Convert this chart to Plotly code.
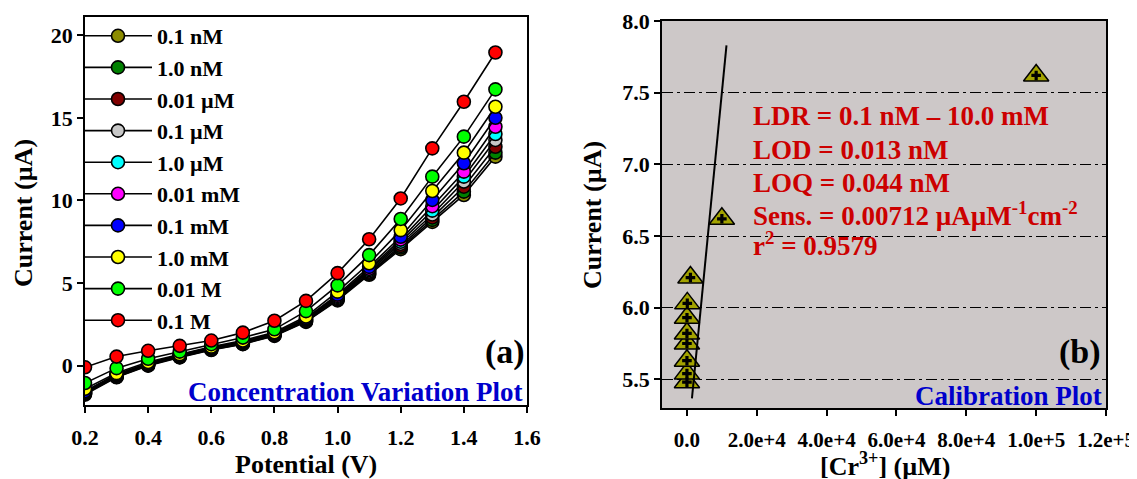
import plotly.graph_objects as go

# ---------------- data: panel (a) ----------------
potential = [0.2, 0.3, 0.4, 0.5, 0.6, 0.7, 0.8, 0.9, 1.0, 1.1, 1.2, 1.3, 1.4, 1.5]
series_names = ["0.1 nM", "1.0 nM", "0.01 µM", "0.1 µM", "1.0 µM",
                "0.01 mM", "0.1 mM", "1.0 mM", "0.01 M", "0.1 M"]
series_colors = ["#8c8c00", "#008000", "#800000", "#c8c8c8", "#00ffff",
                 "#ff00ff", "#0000ff", "#ffff00", "#00ff00", "#ff0000"]
cur_01nM = [-1.75, -0.70, 0.00, 0.50, 0.95, 1.30, 1.80, 2.65, 3.95, 5.50, 7.05, 8.70, 10.33, 12.65]
cur_1nM = [-1.70, -0.68, 0.02, 0.52, 0.97, 1.32, 1.83, 2.68, 4.00, 5.56, 7.15, 8.82, 10.53, 12.89]
cur_001uM = [-1.68, -0.65, 0.05, 0.55, 1.00, 1.35, 1.86, 2.72, 4.05, 5.62, 7.25, 8.97, 10.83, 13.25]
cur_01uM = [-1.65, -0.62, 0.08, 0.58, 1.02, 1.38, 1.88, 2.76, 4.10, 5.70, 7.38, 9.15, 11.14, 13.66]
cur_1uM = [-1.62, -0.58, 0.10, 0.60, 1.05, 1.40, 1.90, 2.80, 4.16, 5.78, 7.50, 9.38, 11.44, 14.02]
cur_001mM = [-1.58, -0.55, 0.12, 0.63, 1.07, 1.43, 1.93, 2.84, 4.22, 5.86, 7.63, 9.65, 11.74, 14.46]
cur_01mM = [-1.55, -0.52, 0.15, 0.66, 1.10, 1.46, 1.96, 2.88, 4.30, 5.98, 7.80, 10.03, 12.25, 15.00]
cur_1mM = [-1.40, -0.45, 0.22, 0.70, 1.15, 1.52, 2.02, 2.97, 4.48, 6.20, 8.20, 10.57, 12.89, 15.67]
cur_001M = [-1.05, -0.15, 0.42, 0.85, 1.30, 1.70, 2.20, 3.30, 4.86, 6.69, 8.88, 11.44, 13.86, 16.72]
cur_01M = [-0.10, 0.55, 0.90, 1.20, 1.52, 2.00, 2.72, 3.92, 5.60, 7.65, 10.12, 13.15, 15.97, 18.95]
series_values = [cur_01nM, cur_1nM, cur_001uM, cur_01uM, cur_1uM,
                 cur_001mM, cur_01mM, cur_1mM, cur_001M, cur_01M]
a_xticks = [0.2, 0.4, 0.6, 0.8, 1.0, 1.2, 1.4, 1.6]
a_yticks = [0, 5, 10, 15, 20]

# ---------------- data: panel (b) ----------------
conc_uM = [1e-4, 1e-3, 1e-2, 1e-1, 1.0, 10.0, 100.0, 1000.0, 10000.0, 100000.0]
calib_current = [5.48, 5.54, 5.63, 5.75, 5.82, 5.93, 6.03, 6.21, 6.62, 7.62]
fit_slope = 2.49e-4
fit_intercept = 5.011
fit_x = [1430.0, 11320.0]
b_xticks = [0, 20000, 40000, 60000, 80000, 100000, 120000]
b_xticktext = ["0.0", "2.0e+4", "4.0e+4", "6.0e+4", "8.0e+4", "1.0e+5", "1.2e+5"]
b_yticks = [5.5, 6.0, 6.5, 7.0, 7.5, 8.0]

stats_lines = ["LDR = 0.1 nM – 10.0 mM", "LOD = 0.013 nM", "LOQ = 0.044 nM",
               "Sens. = 0.00712 µAµM<sup>-1</sup>cm<sup>-2</sup>", "r<sup>2</sup> = 0.9579"]

FONT = "Liberation Serif, Times New Roman, serif"
# the page body adds an 8 px margin; size the figure so it fills the window exactly
OFF = 8
W, H = 1137 - OFF, 479 - OFF


def px(x):
    return (x - OFF) / W


def py(y):
    return 1 - (y - OFF) / H


fig = go.Figure()

for name, col, vals in zip(series_names, series_colors, series_values):
    fig.add_trace(go.Scatter(
        x=potential, y=vals, name=name, mode="lines+markers",
        line=dict(color="black", width=1.6),
        marker=dict(size=13, color=col, line=dict(color="black", width=1.6)),
        xaxis="x", yaxis="y"))

fig.add_trace(go.Scatter(
    x=conc_uM, y=calib_current, mode="markers", showlegend=False,
    marker=dict(symbol="triangle-up", size=22, color="#a3a300",
                line=dict(color="black", width=1.5)),
    xaxis="x2", yaxis="y2"))
fig.add_trace(go.Scatter(
    x=conc_uM, y=calib_current, mode="markers", showlegend=False,
    marker=dict(symbol="cross", size=8, color="black", line=dict(width=0)),
    xaxis="x2", yaxis="y2"))
fig.add_trace(go.Scatter(
    x=fit_x, y=[fit_intercept + fit_slope * v for v in fit_x],
    mode="lines", showlegend=False, line=dict(color="black", width=2),
    xaxis="x2", yaxis="y2"))

axis_common = dict(showline=True, linecolor="black", linewidth=1.6, mirror=True,
                   ticks="outside", ticklen=6, tickwidth=1.6, tickcolor="black",
                   zeroline=False, automargin=False,
                   tickfont=dict(family=FONT, size=22, color="black", weight="bold"))
title_font = dict(family=FONT, size=26, color="black", weight="bold")

fig.update_layout(
    width=W, height=H, autosize=False,
    margin=dict(l=0, r=0, t=0, b=0),
    paper_bgcolor="white",
    plot_bgcolor="white",
    showlegend=True,
    legend=dict(x=px(79), y=py(15), xanchor="left", yanchor="top",
                bgcolor="rgba(0,0,0,0)", borderwidth=0,
                font=dict(family=FONT, size=22, color="black", weight="bold"),
                tracegroupgap=0, itemwidth=68),
    xaxis=dict(domain=[px(85), px(527)], range=[0.2, 1.6], tickvals=a_xticks,
               tickformat=".1f", showgrid=False, anchor="y", ticklabelstandoff=6,
               **axis_common),
    yaxis=dict(domain=[py(405), py(17)], range=[-2.38, 21.1], tickvals=a_yticks,
               showgrid=False, anchor="x", **axis_common),
    xaxis2=dict(domain=[px(662), px(1106)], range=[-7143, 120000], tickvals=b_xticks,
                ticktext=b_xticktext, showgrid=False, anchor="y2", ticklabelstandoff=6,
                **axis_common),
    yaxis2=dict(domain=[py(408), py(21)], range=[5.3, 8.0], tickvals=b_yticks,
                tickformat=".1f", showgrid=True, gridcolor="black", gridwidth=1.4,
                griddash="11px,4px,3px,4px", anchor="x2", **axis_common),
)
fig.update_xaxes(selector=dict(anchor="y2"),
                 tickfont=dict(family=FONT, size=21, color="black", weight="bold"))

# shaded background of panel (b)
fig.add_shape(type="rect", xref="x2 domain", yref="y2 domain", x0=0, x1=1, y0=0, y1=1,
              fillcolor="#cdc8c8", line=dict(width=0), layer="below")

# axis titles
fig.add_annotation(text="Potential (V)", xref="paper", yref="paper", x=px(306), y=py(464),
                   xanchor="center", yanchor="middle", showarrow=False, font=title_font)
fig.add_annotation(text="[Cr<sup>3+</sup>] (µM)", xref="paper", yref="paper", x=px(885),
                   y=py(464), xanchor="center", yanchor="middle", showarrow=False,
                   font=title_font)
fig.add_annotation(text="Current (µA)", xref="paper", yref="paper", x=px(23), y=py(213),
                   xanchor="center", yanchor="middle", textangle=-90, showarrow=False,
                   font=title_font)
fig.add_annotation(text="Current (µA)", xref="paper", yref="paper", x=px(592), y=py(215),
                   xanchor="center", yanchor="middle", textangle=-90, showarrow=False,
                   font=title_font)

stats_y = [116, 150, 183, 214, 244]
for txt, yy in zip(stats_lines, stats_y):
    fig.add_annotation(text=txt, xref="paper", yref="paper", x=px(751), y=py(yy),
                       xanchor="left", yanchor="middle", align="left", showarrow=False,
                       font=dict(family=FONT, size=27, color="#cc0000", weight="bold"))

fig.add_annotation(text="Concentration Variation Plot", xref="paper", yref="paper",
                   x=px(525), y=py(392), xanchor="right", yanchor="middle",
                   showarrow=False,
                   font=dict(family=FONT, size=27, color="#0000cc", weight="bold"))
fig.add_annotation(text="Calibration Plot", xref="paper", yref="paper",
                   x=px(1104), y=py(396), xanchor="right", yanchor="middle",
                   showarrow=False,
                   font=dict(family=FONT, size=27, color="#0000cc", weight="bold"))
fig.add_annotation(text="(a)", xref="paper", yref="paper", x=px(527), y=py(352),
                   xanchor="right", yanchor="middle", showarrow=False,
                   font=dict(family=FONT, size=34, color="black", weight="bold"))
fig.add_annotation(text="(b)", xref="paper", yref="paper", x=px(1103), y=py(352),
                   xanchor="right", yanchor="middle", showarrow=False,
                   font=dict(family=FONT, size=34, color="black", weight="bold"))

fig.write_html("out.html")
